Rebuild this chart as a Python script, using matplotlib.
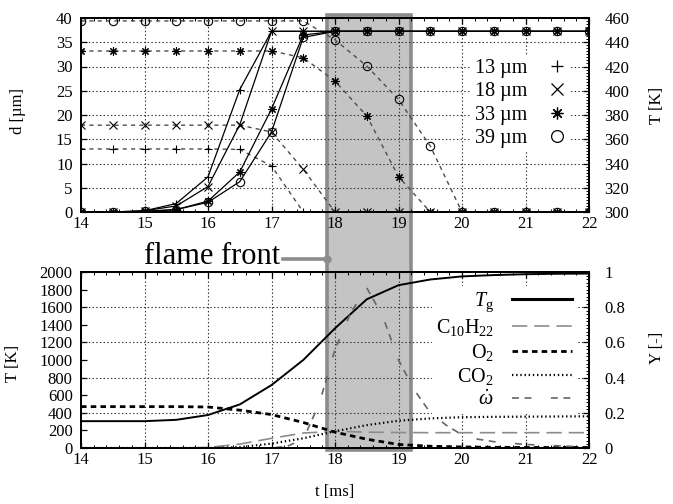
import numpy as np
import matplotlib
matplotlib.use('Agg')
import matplotlib.pyplot as plt
import matplotlib.transforms as mtransforms
from matplotlib.patches import Rectangle
from matplotlib.lines import Line2D
from matplotlib.ticker import MultipleLocator, AutoMinorLocator

plt.rcParams['font.family'] = ['Liberation Serif', 'DejaVu Serif']
plt.rcParams['mathtext.fontset'] = 'custom'
plt.rcParams['mathtext.rm'] = 'Liberation Serif'
plt.rcParams['mathtext.it'] = 'Liberation Serif:italic'
plt.rcParams['lines.scale_dashes'] = False

# time grid [ms]
t = [14, 14.5, 15, 15.5, 16, 16.5, 17, 17.5, 18, 18.5, 19, 19.5, 20, 20.5, 21, 21.5, 22]

# droplet diameters [um]
d13 = [13, 13, 13, 13, 13, 12.9, 9.5, 0, 0, 0, 0, 0, 0, 0, 0, 0, 0]
d18 = [17.9, 17.9, 17.9, 17.9, 17.9, 17.9, 16.5, 8.8, 0, 0, 0, 0, 0, 0, 0, 0, 0]
d33 = [33.2, 33.2, 33.2, 33.2, 33.2, 33.2, 33.2, 31.8, 27, 19.8, 7.3, 0, 0, 0, 0, 0, 0]
d39 = [39.4, 39.4, 39.4, 39.4, 39.4, 39.4, 39.4, 39.4, 35.5, 30.1, 23.2, 13.6, 0, 0, 0, 0, 0]

# droplet temperatures [K]
T13 = [300, 300, 301, 307, 329, 401, 449, 449, 449, 449, 449, 449, 449, 449, 449, 449, 449]
T18 = [300, 300, 301, 305, 321, 372, 449, 449, 449, 449, 449, 449, 449, 449, 449, 449, 449]
T33 = [300, 300, 300.5, 302, 309, 333, 385, 446, 449, 449, 449, 449, 449, 449, 449, 449, 449]
T39 = [300, 300, 300.5, 302, 308, 325, 366, 444, 449, 449, 449, 449, 449, 449, 449, 449, 449]

# gas phase
Tg = [305, 305, 305, 320, 375, 495, 715, 1000, 1360, 1690, 1850, 1915, 1950, 1965, 1975, 1980, 1982]
Y_C10H22 = [0, 0, 0, 0, 0.003, 0.022, 0.055, 0.085, 0.095, 0.09, 0.088, 0.087, 0.087, 0.087, 0.087, 0.087, 0.087]
Y_O2 = [0.235, 0.235, 0.235, 0.235, 0.233, 0.215, 0.19, 0.145, 0.09, 0.05, 0.02, 0.01, 0.006, 0.004, 0.003, 0.003, 0.003]
Y_CO2 = [0, 0, 0, 0, 0, 0.005, 0.025, 0.055, 0.095, 0.13, 0.155, 0.168, 0.175, 0.177, 0.178, 0.179, 0.18]

t_omega = [14, 17, 17.25, 17.5, 17.75, 18, 18.25, 18.5, 18.75, 19, 19.25, 19.5, 19.75,
           20, 20.25, 20.5, 20.75, 21, 22]
omega = [0, 0, 0.01, 0.05, 0.25, 0.56, 0.77, 0.91, 0.75, 0.5, 0.33, 0.2, 0.13,
         0.075, 0.05, 0.036, 0.028, 0.02, 0.005]

flame = (17.87, 19.19)

W, H = 673, 504
fig = plt.figure(figsize=(W / 100, H / 100), dpi=100)
ax1 = fig.add_axes([81 / W, 1 - 212 / H, 508 / W, 194 / H])
ax2 = fig.add_axes([81 / W, 1 - 448 / H, 508 / W, 176 / H])
for a in (ax1, ax2):
    a.patch.set_visible(False)
    a.set_axisbelow(True)
ax1r = ax1.twinx()
ax2r = ax2.twinx()

grid_kw = dict(linestyle=':', color='0.2', linewidth=0.8)
fs_tick = 12

# --- top: diameter and droplet temperature ---
markers = ['+', 'x', (8, 2, 0), 'o']
diam = [d13, d18, d33, d39]
temp = [T13, T18, T33, T39]
for d, T, m in zip(diam, temp, markers):
    mfc = 'none' if m == 'o' else 'k'
    ax1.plot(t, d, color='0.3', lw=1.0, dashes=(3, 3), marker=m, ms=6, mfc=mfc, mec='k', mew=0.8)
    ax1r.plot(t, T, color='k', lw=0.9, marker=m, ms=6, mfc=mfc, mec='k', mew=0.8)

ax1.set_xlim(14, 22)
ax1.set_ylim(0, 40)
ax1r.set_ylim(300, 460)
ax1.xaxis.set_major_locator(MultipleLocator(1))
ax1.xaxis.set_minor_locator(AutoMinorLocator(5))
ax1.yaxis.set_major_locator(MultipleLocator(5))
ax1r.yaxis.set_major_locator(MultipleLocator(20))
ax1r.yaxis.set_minor_locator(AutoMinorLocator(8))
ax1.grid(True, which='major', **grid_kw)
ax1.set_ylabel('d [µm]', fontsize=fs_tick)
ax1r.set_ylabel('T [K]', fontsize=fs_tick, rotation=90)
ax1.yaxis.set_label_coords(-0.108, 0.52)
ax1r.yaxis.set_label_coords(1.118, 0.55)

leg_handles = [Line2D([], [], ls='none', marker=m, color='k', ms=8.5,
                      mfc='none' if m == 'o' else 'k', mew=0.9) for m in markers]
leg1 = ax1r.legend(leg_handles, ['13 µm', '18 µm', '33 µm', '39 µm'],
                   loc='upper right', bbox_to_anchor=(0.985, 0.86), markerfirst=False,
                   fontsize=14.5, handlelength=1.0, handletextpad=1.0, labelspacing=0.2,
                   borderpad=0.2, fancybox=False, framealpha=1)
leg1.get_frame().set_edgecolor('none')

# --- bottom: gas temperature and species ---
l_tg, = ax2.plot(t, Tg, color='k', lw=1.4)
l_fuel, = ax2r.plot(t, Y_C10H22, color='0.55', lw=1.2, dashes=(11, 5))
l_o2, = ax2r.plot(t, Y_O2, color='k', lw=2.0, dashes=(4, 3))
l_co2, = ax2r.plot(t, Y_CO2, color='k', lw=1.6, dashes=(1, 2))
l_om, = ax2r.plot(t_omega, omega, color='0.4', lw=1.2, dashes=(5, 4, 5, 14))

ax2.set_xlim(14, 22)
ax2.set_ylim(0, 2000)
ax2r.set_ylim(0, 1)
ax2.xaxis.set_major_locator(MultipleLocator(1))
ax2.xaxis.set_minor_locator(AutoMinorLocator(5))
ax2.yaxis.set_major_locator(MultipleLocator(200))
ax2r.yaxis.set_major_locator(MultipleLocator(0.2))
ax2r.yaxis.set_minor_locator(AutoMinorLocator(10))
ax2r.yaxis.set_major_formatter(plt.FuncFormatter(lambda v, p: f'{v:g}'))
ax2.grid(True, axis='x', which='major', **grid_kw)
ax2r.grid(True, axis='y', which='major', **grid_kw)
ax2.set_xlabel('t [ms]', fontsize=fs_tick)
ax2.set_ylabel('T [K]', fontsize=fs_tick)
ax2r.set_ylabel('Y [-]', fontsize=fs_tick, rotation=90)
ax2.xaxis.set_label_coords(0.5, -0.205)
ax2.yaxis.set_label_coords(-0.118, 0.48)
ax2r.yaxis.set_label_coords(1.118, 0.57)

leg2 = ax2r.legend([l_tg, l_fuel, l_o2, l_co2, l_om],
                   [r'$T_{\mathrm{g}}$', r'C$_{10}$H$_{22}$', r'O$_2$', r'CO$_2$', r'$\dot{\omega}$'],
                   loc='upper right', bbox_to_anchor=(0.995, 0.975), markerfirst=False,
                   fontsize=14.5, handlelength=3.0, handletextpad=0.9, labelspacing=0.17,
                   borderpad=0.2, fancybox=False, framealpha=1)
leg2.get_frame().set_edgecolor('none')
for line in leg2.get_lines():
    if line.get_linestyle() == '-':
        line.set_linewidth(2.2)

for a in (ax1, ax1r, ax2, ax2r):
    a.tick_params(which='both', direction='in', labelsize=fs_tick)
    a.tick_params(which='major', length=4.5, width=0.9)
    a.tick_params(which='minor', length=2.5, width=0.7)
    for s in a.spines.values():
        s.set_linewidth(1.4)
for a in (ax1, ax2):
    a.tick_params(axis='x', which='both', top=True, pad=3)
    a.tick_params(axis='y', pad=6)
for a in (ax1r, ax2r):
    a.tick_params(axis='y', pad=11)

# --- flame front band spanning both panels ---
trans = mtransforms.blended_transform_factory(ax1.transData, fig.transFigure)
band = Rectangle((flame[0], 1 - 450 / H), flame[1] - flame[0], (450 - 15) / H,
                 transform=trans, facecolor='#c4c4c4', edgecolor='#8c8c8c',
                 lw=2.6, zorder=-1)
fig.add_artist(band)
fig.add_artist(Line2D([17.18, flame[0]], [1 - 259 / H, 1 - 259 / H], transform=trans,
                      color='#8c8c8c', lw=2.6, marker='o', ms=5, markevery=[1]))
fig.text(17.13, 1 - 264 / H, 'flame front', transform=trans, ha='right', va='baseline',
         fontsize=22)

fig.savefig('out.png', dpi=100)
